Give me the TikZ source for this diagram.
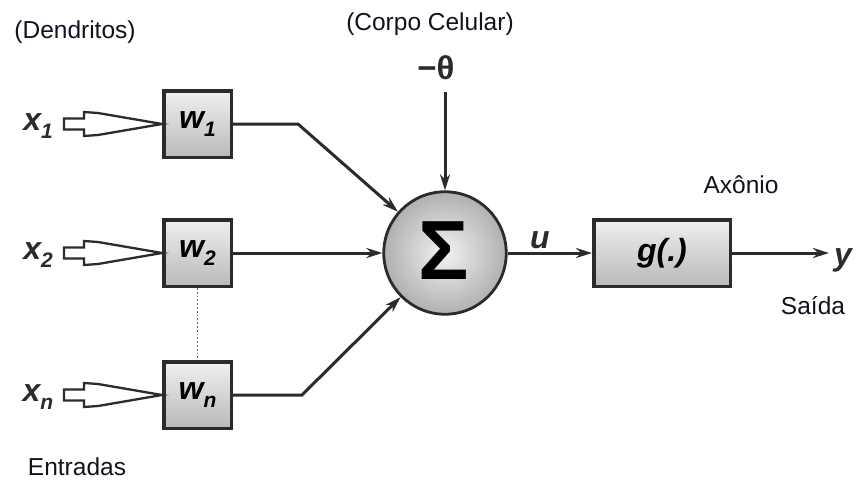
\documentclass[tikz,border=0pt]{standalone}
\usepackage{fontspec}
\setmainfont{Liberation Sans}
\usetikzlibrary{arrows.meta,calc}

\definecolor{ink}{HTML}{2B2B2B}
\definecolor{txt}{HTML}{151020}
\newcommand\lblfont{\fontsize{32}{32}\selectfont\bfseries\itshape}
\newcommand\capfont{\fontsize{24.5}{24.5}\selectfont}
\newcommand\idx[1]{\raisebox{-8pt}{\fontsize{21}{21}\selectfont #1}}

\begin{document}
\begin{tikzpicture}[x=1pt,y=-1pt,
  wbox/.style={draw=ink, line width=3.5pt, top color=gray!12, bottom color=gray!55,
    minimum width=67.5pt, minimum height=66.5pt, inner sep=0pt, font=\lblfont},
  sumnode/.style={circle, draw=ink, line width=2.8pt, shading=radial,
    inner color=gray!10, outer color=gray!62, minimum size=122.5pt, inner sep=0pt},
  conn/.style={draw=ink, line width=3pt, -{Stealth[length=16pt,width=10pt]}},
  caption/.style={font=\capfont, text=txt, inner sep=0pt, anchor=base},
  mathlbl/.style={font=\lblfont, text=ink, inner sep=0pt, anchor=base},
  pics/inarrow/.style={code={
    \draw[draw=ink, line width=2.3pt, fill=white, line join=miter]
      (-98,-5.5) -- (-78,-5.5) -- (-78,-12) -- (-64,-11) -- (0,0)
      -- (-64,11) -- (-78,12) -- (-78,5.5) -- (-98,5.5) -- cycle;
  }}
]
\useasboundingbox (0,0) rectangle (856,479);

% captions
\node[caption] (dend) at (75,38) {(Dendritos)};
\node[caption] (corpo) at (430,30) {(Corpo Celular)};
\node[caption] (axon) at (741,193) {Axônio};
\node[caption] (saida) at (813,314) {Saída};
\node[caption] (entr) at (77,475) {Entradas};

% weight boxes
\node[wbox] (w1) at (197.5,124) {w\idx{1}};
\node[wbox] (w2) at (197.5,253) {w\idx{2}};
\node[wbox] (wn) at (197.5,395) {w\idx{n}};

% inputs with hollow arrows
\node[mathlbl] (x1) at (38,130) {x\idx{1}};
\node[mathlbl] (x2) at (38,259) {x\idx{2}};
\node[mathlbl] (xn) at (38,401) {x\idx{n}};
\pic at (w1.west) {inarrow};
\pic at (w2.west) {inarrow};
\pic at (wn.west) {inarrow};

% dotted link between the weights
\draw[draw=gray!80!black, line width=1.8pt, dotted] (w2.south) -- (wn.north);

% summing junction
\node[sumnode] (sum) at (445,253) {};
\node[font=\fontsize{84}{84}\selectfont\bfseries, text=black, inner sep=0pt] (sigma) at (444,251) {Σ};

% threshold
\node[font=\fontsize{33}{33}\selectfont\bfseries, text=ink, inner sep=0pt, anchor=base] (theta) at (436,79) {−θ};
\coordinate (tstart) at (445,92);
\draw[conn] (tstart) -- (sum);

% weighted inputs into the sum
\coordinate (b1) at (298,124);
\coordinate (bn) at (302,395);
\draw[conn] (w1.east) -- (b1) -- (sum);
\draw[conn] (w2.east) -- (sum);
\draw[conn] (wn.east) -- (bn) -- (sum);

% activation and output
\node[wbox, minimum width=136.5pt] (g) at (662,253) {g(.)};
\draw[conn] (sum.east) -- (g.west);
\node[mathlbl] (u) at (540,248) {u};
\coordinate (yend) at (829,253);
\draw[conn] (g.east) -- (yend);
\node[mathlbl] (y) at (843,265) {y};
\end{tikzpicture}
\end{document}
